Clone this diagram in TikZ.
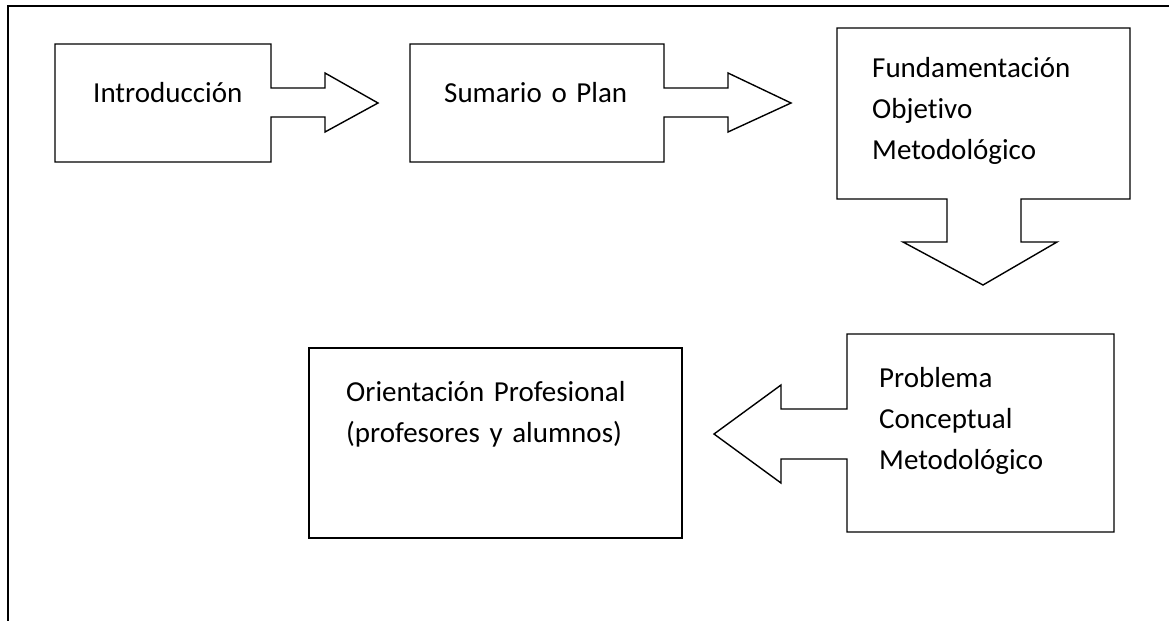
\documentclass[tikz,border=0pt]{standalone}
\usepackage{fontspec}
\setmainfont{Carlito}[Ligatures=NoCommon]
\begin{document}
\begin{tikzpicture}[x=1pt,y=-1pt,
  holder/.style={draw=none,rectangle,inner sep=0pt,outer sep=0pt,
    minimum width=#1},
  outline/.style={draw=black,line width=1.4pt,line join=miter},
  frameline/.style={draw=black,line width=2pt},
  label/.style={font=\fontsize{29}{41}\selectfont,inner sep=0pt,
    align=left,anchor=base west,text width=12cm}]
\useasboundingbox (0,0) rectangle (1169,621);

% page frame: top and left rules only
\draw[frameline] (1169,6) -- (8,6) -- (8,621);

% box holders
\node[holder=216pt,minimum height=118pt] (b1) at (163,103) {};
\node[holder=254pt,minimum height=118pt] (b2) at (537,103) {};
\node[holder=293pt,minimum height=171pt] (b3) at (983.5,113.5) {};
\node[holder=267pt,minimum height=198pt] (b4) at (980.5,433) {};
\node[holder=373pt,minimum height=190pt] (b5) at (495.5,443) {};

% arrow tips
\coordinate (p1) at (378,103);
\coordinate (p2) at (791,103);
\coordinate (p3) at (983,285);
\coordinate (p4) at (714,434);

% Introducción with right arrow
\draw[outline] (b1.north west) -- (b1.north east) -- (b1.east |- 0,88)
  -- (325,88) -- (325,73) -- (p1) -- (325,132) -- (325,117)
  -- (b1.east |- 0,117) -- (b1.south east) -- (b1.south west) -- cycle;

% Sumario o Plan with right arrow
\draw[outline] (b2.north west) -- (b2.north east) -- (b2.east |- 0,88)
  -- (728,88) -- (728,73) -- (p2) -- (728,132) -- (728,117)
  -- (b2.east |- 0,117) -- (b2.south east) -- (b2.south west) -- cycle;

% Fundamentación box with down arrow
\draw[outline] (b3.north west) -- (b3.north east) -- (b3.south east)
  -- (b3.south -| 1021,0) -- (1021,242) -- (1057,242) -- (p3)
  -- (903,242) -- (947,242) -- (b3.south -| 947,0)
  -- (b3.south west) -- cycle;

% Problema box with left arrow
\draw[outline] (b4.north west) -- (b4.north east) -- (b4.south east)
  -- (b4.south west) -- (b4.west |- 0,459) -- (781,459) -- (781,483)
  -- (p4) -- (781,385) -- (781,409) -- (b4.west |- 0,409) -- cycle;

% Orientación box
\draw[outline] (b5.north west) rectangle (b5.south east);

% texts
\node[label] (t1) at (93,102) {Introducción};
\node[label] (t2) at (444,102) {Sumario o Plan};
\node[label] (t3) at (872,77) {Fundamentación\\Objetivo\\Metodológico};
\node[label] (t4) at (879,387) {Problema\\Conceptual\\Metodológico};
\node[label] (t5) at (346,401) {Orientación Profesional\\(profesores y alumnos)};
\end{tikzpicture}
\end{document}
